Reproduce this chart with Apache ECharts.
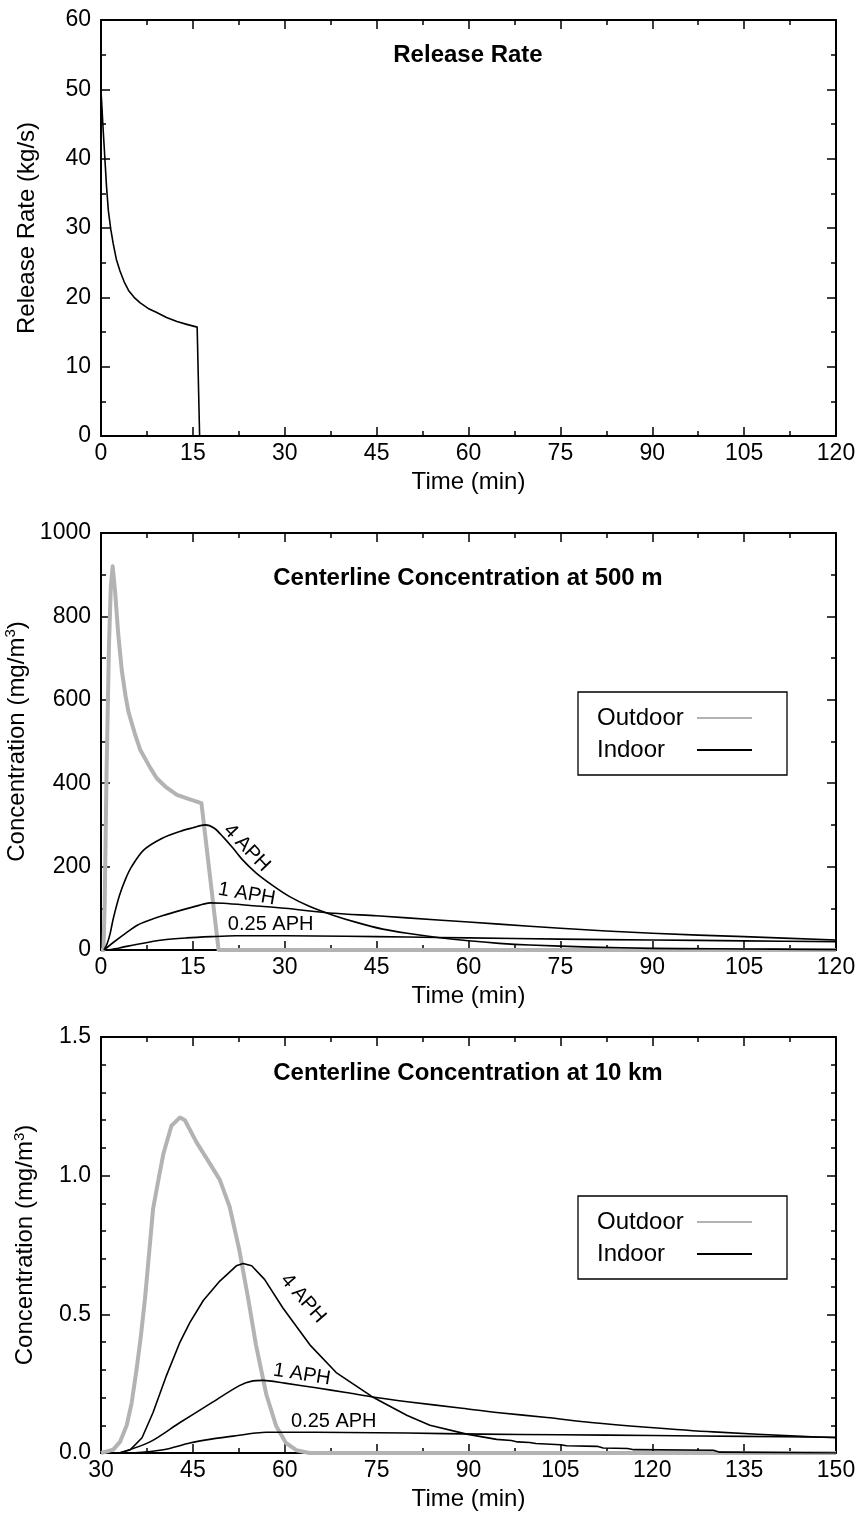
<!DOCTYPE html>
<html>
<head>
<meta charset="utf-8">
<script src="https://cdn.jsdelivr.net/npm/echarts@6/dist/echarts.min.js"></script>
<style>
  html, body { margin: 0; padding: 0; background: #fff; }
  #chart { width: 865px; height: 1520px; }
</style>
</head>
<body>
<div id="chart"></div>
<script>
// ---------- Release rate (kg/s) ----------
const releaseTime = [0, 0.15, 0.3, 0.5, 0.7, 0.9, 1.2, 1.6, 2.0, 2.5, 3.1, 3.8, 4.5, 5.4, 6.4, 7.7, 9.1, 10.7, 12.4, 14, 15.7, 16.1, 120];
const releaseRate = [49.8, 47.5, 45, 42, 39, 36, 32.5, 29.8, 27.7, 25.5, 23.8, 22.2, 21.0, 20.0, 19.2, 18.4, 17.8, 17.1, 16.5, 16.1, 15.7, 0, 0];

// ---------- Centerline concentration at 500 m (mg/m3) ----------
const outdoor500Time = [0, 0.4, 0.6, 0.9, 1.3, 1.6, 1.9, 2.3, 2.8, 3.4, 4.0, 4.5, 5.5, 6.4, 8, 9.1, 10.5, 12.4, 14.5, 16.4, 19.2, 120];
const outdoor500Conc = [0, 0, 110, 420, 730, 870, 920, 860, 760, 670, 610, 570, 520, 480, 438, 412, 392, 372, 361, 352, 0, 0];

const aph4At500Time = [0.5, 1, 1.5, 2, 3, 4, 5, 7, 10, 13, 15, 17, 18.5, 20, 21.5, 23, 25.3, 28, 30.8, 34, 38, 42, 46, 50, 55, 60, 65, 70, 80, 90, 100, 110, 120];
const aph4At500Conc = [0, 15, 40, 75, 130, 170, 200, 240, 268, 285, 293, 300, 292, 270, 245, 218, 185, 155, 128, 105, 83, 65, 50, 40, 30, 22, 16, 12, 7, 4, 3, 2, 1];

const aph1At500Time = [0.5, 2, 4, 6, 8, 10, 13, 16, 17.8, 20, 25, 30, 38, 45, 55, 65, 75, 90, 105, 120];
const aph1At500Conc = [0, 18, 40, 60, 72, 82, 95, 107, 113, 112, 106, 100, 88, 82, 72, 62, 52, 40, 32, 24];

const aphQAt500Time = [1, 3, 6, 10, 14, 18, 22, 30, 40, 50, 60, 75, 90, 105, 120];
const aphQAt500Conc = [0, 5, 14, 24, 29, 32, 34, 34, 33, 31, 29, 26, 24, 22, 20];

// ---------- Centerline concentration at 10 km (mg/m3) ----------
const outdoor10kTime = [30, 32, 33.1, 34.2, 35, 35.8, 36.5, 37.2, 38.5, 39.5, 40.2, 41.5, 42.9, 43.7, 45.6, 47.7, 49.4, 51, 52.6, 54, 55.3, 57, 58.6, 60.2, 61.9, 64, 150];
const outdoor10kConc = [0, 0.012, 0.04, 0.1, 0.18, 0.3, 0.42, 0.56, 0.88, 1.0, 1.08, 1.18, 1.21, 1.2, 1.12, 1.046, 0.985, 0.888, 0.73, 0.56, 0.39, 0.21, 0.097, 0.036, 0.01, 0, 0];

const aph4At10kTime = [33, 34.8, 36.7, 38.5, 40.7, 42.9, 44.5, 46.7, 49.4, 52.1, 53.2, 54.6, 56.7, 59.7, 64.1, 68.4, 74.2, 76.7, 80, 83.7, 89.7, 94.6, 97, 98, 100, 101, 105, 106, 111, 112, 116, 117, 130, 131, 150];
const aph4At10kConc = [0, 0.012, 0.055, 0.146, 0.28, 0.40, 0.47, 0.55, 0.62, 0.675, 0.683, 0.675, 0.626, 0.523, 0.39, 0.29, 0.204, 0.174, 0.135, 0.10, 0.068, 0.049, 0.045, 0.040, 0.038, 0.034, 0.030, 0.026, 0.024, 0.018, 0.016, 0.012, 0.010, 0.003, 0];

const aph1At10kTime = [33, 38, 42.9, 47.7, 52.6, 54.8, 56.4, 60, 65.1, 70, 74.9, 80, 88.6, 95, 102.8, 110, 119.1, 130, 144.4, 150];
const aph1At10kConc = [0, 0.04, 0.11, 0.176, 0.243, 0.26, 0.262, 0.252, 0.235, 0.218, 0.2, 0.185, 0.162, 0.145, 0.128, 0.11, 0.093, 0.076, 0.06, 0.055];

const aphQAt10kTime = [35, 40.2, 44.5, 48, 51.6, 55.3, 57, 60, 70, 80, 92, 105, 120, 135, 150];
const aphQAt10kConc = [0, 0.012, 0.036, 0.05, 0.061, 0.072, 0.075, 0.075, 0.074, 0.072, 0.068, 0.066, 0.063, 0.06, 0.057];

// ---------- Axis ranges and titles ----------
const panelTitles = ['Release Rate', 'Centerline Concentration at 500 m', 'Centerline Concentration at 10 km'];
const timeRanges = [[0, 120], [0, 120], [30, 150]];
const valueRanges = [[0, 60, 10, 2], [0, 1000, 200, 2], [0, 1.5, 0.5, 5]];
const yNames = ['Release Rate (kg/s)', 'Concentration (mg/m{sup|3})', 'Concentration (mg/m{sup|3})'];
const legendNames = ['Outdoor', 'Indoor'];

// Curve annotations: [panel, text, time, value, angle in degrees]
const curveNotes = [
  [1, '4 APH', 23.8, 245, -46],
  [1, '1 APH', 23.8, 134, -10],
  [1, '0.25 APH', 27.7, 62, 0],
  [2, '4 APH', 63.0, 0.557, -49],
  [2, '1 APH', 62.8, 0.283, -9],
  [2, '0.25 APH', 68.0, 0.115, 0]
];

const FONT = '"Liberation Sans", Arial, Helvetica, sans-serif';
const GRAY = '#b3b3b3';

const grids = [
  { left: 101, right: 29, top: 20, height: 416 },
  { left: 101, right: 29, top: 533, height: 417 },
  { left: 101, right: 29, top: 1037, height: 416 }
].map(g => Object.assign({ outerBoundsMode: 'none', containLabel: false }, g));

function pairs(ts, vs) { return ts.map((t, i) => [t, vs[i]]); }

function tickStyle(minorSplit) {
  return {
    axisLine: { show: true, onZero: false, lineStyle: { color: '#000', width: 2 } },
    axisTick: { show: true, inside: true, length: 9, lineStyle: { color: '#000', width: 1.5 } },
    minorTick: { show: true, splitNumber: minorSplit, length: 5, lineStyle: { color: '#000', width: 1.5 } },
    splitLine: { show: false },
    minorSplitLine: { show: false }
  };
}

const xAxes = [], yAxes = [];
for (let i = 0; i < 3; i++) {
  const [tmin, tmax] = timeRanges[i];
  const [vmin, vmax, vint, vminor] = valueRanges[i];
  // bottom time axis (labelled) and top mirror
  xAxes.push(Object.assign({
    type: 'value', gridIndex: i, position: 'bottom', min: tmin, max: tmax, interval: 15,
    name: 'Time (min)', nameLocation: 'middle', nameGap: 34,
    nameTextStyle: { fontFamily: FONT, fontSize: 24, color: '#000' },
    axisLabel: { show: true, color: '#000', fontFamily: FONT, fontSize: 23, margin: 6, showMinLabel: true, showMaxLabel: true, hideOverlap: false }
  }, tickStyle(2)));
  xAxes.push(Object.assign({
    type: 'value', gridIndex: i, position: 'top', min: tmin, max: tmax, interval: 15,
    axisLabel: { show: false }
  }, tickStyle(2)));
  // left value axis (labelled) and right mirror
  yAxes.push(Object.assign({
    type: 'value', gridIndex: i, position: 'left', min: vmin, max: vmax, interval: vint,
    name: yNames[i], nameLocation: 'middle', nameGap: 62,
    nameTextStyle: {
      fontFamily: FONT, fontSize: 24, color: '#000',
      rich: { sup: { fontFamily: FONT, fontSize: 15, color: '#000', padding: [0, 0, 12, 0] } }
    },
    axisLabel: {
      show: true, color: '#000', fontFamily: FONT, fontSize: 23, margin: 10,
      showMinLabel: true, showMaxLabel: true, hideOverlap: false,
      formatter: i === 2 ? (v => v.toFixed(1)) : (v => String(v))
    }
  }, tickStyle(vminor)));
  yAxes.push(Object.assign({
    type: 'value', gridIndex: i, position: 'right', min: vmin, max: vmax, interval: vint,
    axisLabel: { show: false }
  }, tickStyle(vminor)));
}

function lineSeries(name, panel, ts, vs, color, width, z, smooth) {
  return {
    name: name, type: 'line', xAxisIndex: panel * 2, yAxisIndex: panel * 2,
    data: pairs(ts, vs), symbol: 'none', showSymbol: false,
    smooth: smooth || false,
    lineStyle: { color: color, width: width, join: 'round' }, itemStyle: { color: color },
    z: z, silent: true
  };
}

const series = [
  lineSeries('Release Rate', 0, releaseTime, releaseRate, '#000', 1.6, 3),
  lineSeries('Outdoor', 1, outdoor500Time, outdoor500Conc, GRAY, 4, 2),
  lineSeries('Indoor', 1, aph4At500Time, aph4At500Conc, '#000', 1.6, 3, 0.3),
  lineSeries('Indoor', 1, aph1At500Time, aph1At500Conc, '#000', 1.6, 3, 0.3),
  lineSeries('Indoor', 1, aphQAt500Time, aphQAt500Conc, '#000', 1.6, 3, 0.3),
  lineSeries('Outdoor', 2, outdoor10kTime, outdoor10kConc, GRAY, 4, 2),
  lineSeries('Indoor', 2, aph4At10kTime, aph4At10kConc, '#000', 1.6, 3),
  lineSeries('Indoor', 2, aph1At10kTime, aph1At10kConc, '#000', 1.6, 3, 0.3),
  lineSeries('Indoor', 2, aphQAt10kTime, aphQAt10kConc, '#000', 1.6, 3, 0.3)
];

function legendBox(top) {
  return {
    show: true, orient: 'vertical', left: 578, top: top, align: 'right',
    data: legendNames, selectedMode: false,
    backgroundColor: '#fff', borderColor: '#000', borderWidth: 1.3, borderRadius: 0,
    padding: [14, 34, 13, 19], itemGap: 8, itemWidth: 55, itemHeight: 14,
    // line samples only, no point marker
    itemStyle: { color: 'transparent', borderColor: 'transparent', borderWidth: 0, opacity: 0 },
    formatter: name => '{t|' + name + '}',
    textStyle: {
      fontFamily: FONT, fontSize: 24, color: '#000', lineHeight: 24,
      rich: { t: { fontFamily: FONT, fontSize: 24, color: '#000', width: 95, align: 'left', lineHeight: 24 } }
    }
  };
}

const titles = panelTitles.map((t, i) => ({
  text: t, left: 468, top: [43, 566, 1061][i], textAlign: 'center', padding: 0,
  textStyle: { fontFamily: FONT, fontSize: 24, fontWeight: 'bold', color: '#000' }
}));

const chart = echarts.init(document.getElementById('chart'), null, { renderer: 'canvas' });
chart.setOption({
  animation: false,
  backgroundColor: '#fff',
  title: titles,
  grid: grids,
  xAxis: xAxes,
  yAxis: yAxes,
  legend: [legendBox(692), legendBox(1196)],
  tooltip: { show: false },
  series: series
});

// Curve annotations placed in data coordinates of each panel
chart.setOption({
  graphic: curveNotes.map(([panel, text, t, v, deg]) => {
    const p = chart.convertToPixel({ gridIndex: panel }, [t, v]);
    return {
      type: 'text', x: p[0], y: p[1], rotation: deg * Math.PI / 180, silent: true, z: 10,
      style: {
        text: text, fontFamily: FONT, fontSize: 20, fill: '#000',
        align: 'center', verticalAlign: 'middle',
        textAlign: 'center', textVerticalAlign: 'middle'
      }
    };
  })
});
</script>
</body>
</html>
